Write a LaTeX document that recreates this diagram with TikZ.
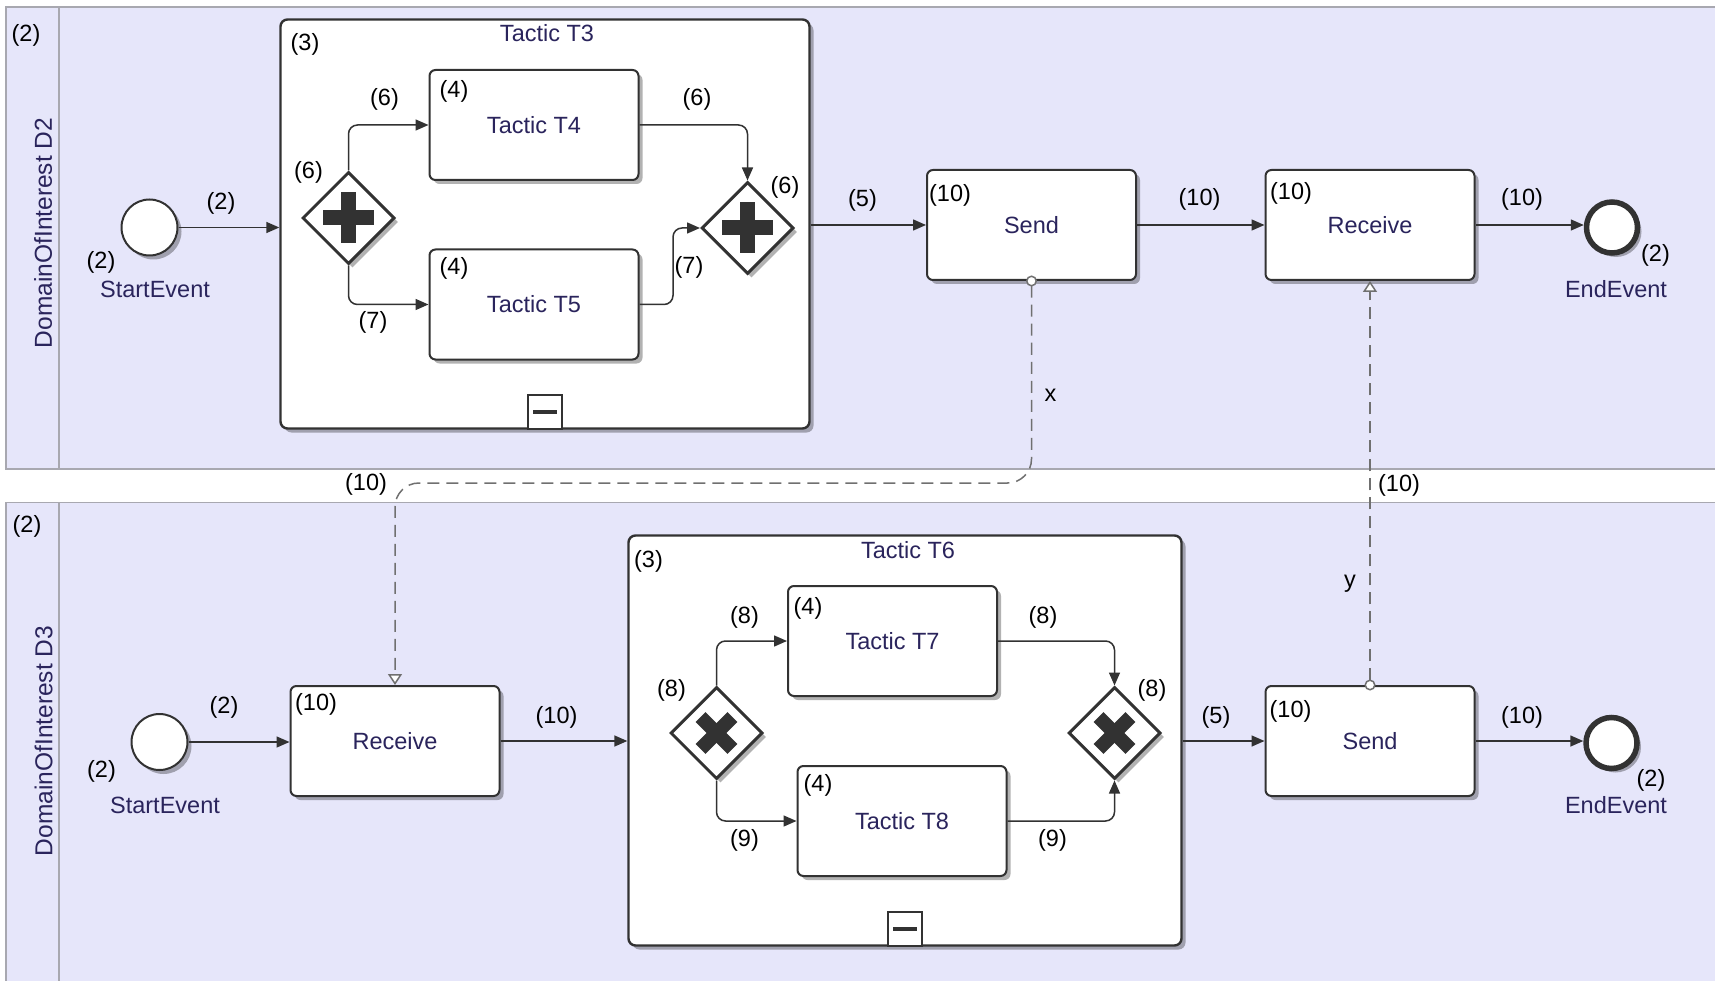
\documentclass[tikz,border=0pt]{standalone}
\usepackage{fontspec}
\setmainfont{Liberation Sans}
\usetikzlibrary{arrows.meta,positioning,shapes.geometric,shadows}

\definecolor{lanebg}{RGB}{230,230,250}
\definecolor{laneedge}{RGB}{168,168,176}
\definecolor{ink}{RGB}{50,50,50}
\definecolor{navy}{RGB}{42,36,92}
\definecolor{msgline}{RGB}{112,112,112}

\begin{document}
\begin{tikzpicture}[x=1pt, y=-1pt,
    every node/.style={font=\fontsize{23.5}{28}\selectfont, inner sep=0pt},
    lane/.style={fill=lanebg, draw=laneedge, line width=1.5pt},
    shadowed/.style={drop shadow={shadow xshift=4pt, shadow yshift=-4pt, fill=black, opacity=.3}},
    task/.style={draw=ink, line width=2pt, rounded corners=6pt, fill=white, shadowed,
      minimum width=209pt, minimum height=110pt, text=navy},
    sub/.style={draw=ink, line width=2.4pt, rounded corners=7pt, fill=white, shadowed},
    fold/.style={draw=ink, line width=1.8pt, fill=white, minimum width=34pt, minimum height=34pt, anchor=south,
      path picture={\draw[ink, line width=3.5pt] ([xshift=5pt]path picture bounding box.west) -- ([xshift=-5pt]path picture bounding box.east);}},
    gate/.style={diamond, aspect=1, draw=ink, line width=3pt, fill=white, shadowed, minimum width=92pt, minimum height=92pt},
    andgate/.style={gate, path picture={
      \fill[ink] ([shift={(-25.5,-7.5)}]path picture bounding box.center) rectangle ([shift={(25.5,7.5)}]path picture bounding box.center);
      \fill[ink] ([shift={(-7.5,-25.5)}]path picture bounding box.center) rectangle ([shift={(7.5,25.5)}]path picture bounding box.center);}},
    xorgate/.style={gate, path picture={
      \begin{scope}[shift={(path picture bounding box.center)}]
        \fill[ink] (10.96,20.86) -- (20.86,10.96) -- (-10.96,-20.86) -- (-20.86,-10.96) -- cycle;
        \fill[ink] (-10.96,20.86) -- (-20.86,10.96) -- (10.96,-20.86) -- (20.86,-10.96) -- cycle;
      \end{scope}}},
    startev/.style={circle, draw=ink, line width=2pt, fill=white, shadowed, minimum size=56pt},
    endev/.style={circle, draw=ink, line width=5.5pt, fill=white, shadowed, minimum size=51pt},
    flow/.style={draw=ink, line width=1.5pt, rounded corners=9pt, -{Triangle[length=13pt, width=11pt]}},
    msg/.style={draw=msgline, line width=1.5pt, dash pattern=on 12pt off 7pt, rounded corners=24pt,
      {Circle[open, fill=white, length=11pt, width=11pt]}-{Triangle[open, fill=white, length=11pt, width=14pt]}},
    num/.style={text=black},
    title/.style={text=navy}
  ]
  \fill[white] (0,0) rectangle (1715,981);
  \useasboundingbox (0,0) rectangle (1715,981);

  % pools
  \draw[lane] (6,7) rectangle (1725,469);
  \draw[laneedge, line width=1.5pt] (59,7) -- (59,469);
  \draw[lane] (6,502.5) rectangle (1725,995);
  \draw[laneedge, line width=1.5pt] (59,502.5) -- (59,995);
  \node[num] (p1n) at (26,35) {(2)};
  \node[title, rotate=90, font=\fontsize{24.5}{29}\selectfont] (d2) at (43,233) {DomainOfInterest D2};
  \node[num] (p2n) at (27,526.5) {(2)};
  \node[title, rotate=90, font=\fontsize{24.5}{29}\selectfont] (d3) at (43.5,741) {DomainOfInterest D3};

  % domain D2
  \node[startev] (start1) at (149.5,227.5) {};
  \node[num] (start1n) at (101,262) {(2)};
  \node[title] (start1t) at (155,289) {StartEvent};
  \node[sub, minimum width=529pt, minimum height=409pt] (t3) at (545,224) {};
  \node[fold] (t3f) at (t3.south) {};
  \node[title] (t3t) at (547,33) {Tactic T3};
  \node[num] (t3n) at (305,44) {(3)};
  \node[andgate] (g1) at (348.5,218) {};
  \node[num] (g1n) at (308.5,172) {(6)};
  \node[task] (t4) at (534,125) {Tactic T4};
  \node[num] (t4n) at (454,91) {(4)};
  \node[task] (t5) at (534,304.5) {Tactic T5};
  \node[num] (t5n) at (454,268) {(4)};
  \node[andgate] (g2) at (747.5,228) {};
  \node[num] (g2n) at (785,187) {(6)};
  \node[task] (send1) at (1031.5,225) {Send};
  \node[num] (send1n) at (950,195) {(10)};
  \node[task] (recv1) at (1370,225) {Receive};
  \node[num] (recv1n) at (1291,193) {(10)};
  \node[endev] (end1) at (1612,227.5) {};
  \node[num] (end1n) at (1655.5,255) {(2)};
  \node[title] (end1t) at (1616,289.5) {EndEvent};

  \draw[flow] (start1.east) -- (start1.east -| t3.west) node[num] at (221,203) {(2)};
  \draw[flow] (g1.north) |- (t4.west) node[num] at (384.5,99) {(6)};
  \draw[flow] (g1.south) |- (t5.west) node[num] at (373,322.5) {(7)};
  \draw[flow] (t4.east) -| (g2.north) node[num] at (697,99) {(6)};
  \draw[flow] (t5.east) -| ([xshift=-27pt]g2.west) -- (g2.west) node[num] at (689,267) {(7)};
  \draw[flow] (send1.west -| t3.east) -- (send1.west) node[num] at (862.5,200) {(5)};
  \draw[flow] (send1.east) -- (recv1.west) node[num] at (1199.5,199) {(10)};
  \draw[flow] (recv1.east) -- (recv1.east -| end1.west) node[num] at (1522,199) {(10)};

  % domain D3
  \node[startev] (start2) at (159.5,742) {};
  \node[num] (start2n) at (101.5,771.5) {(2)};
  \node[title] (start2t) at (165,805) {StartEvent};
  \node[task] (recv2) at (395,741) {Receive};
  \node[num] (recv2n) at (316,704) {(10)};
  \node[sub, minimum width=553pt, minimum height=410pt] (t6) at (905,740.5) {};
  \node[fold] (t6f) at (t6.south) {};
  \node[title] (t6t) at (908,550) {Tactic T6};
  \node[num] (t6n) at (648.5,561.5) {(3)};
  \node[xorgate] (g3) at (716.5,733) {};
  \node[num] (g3n) at (671.5,690) {(8)};
  \node[task] (t7) at (892.5,641) {Tactic T7};
  \node[num] (t7n) at (808,608.5) {(4)};
  \node[task] (t8) at (902,821) {Tactic T8};
  \node[num] (t8n) at (818,785) {(4)};
  \node[xorgate] (g4) at (1114.5,733) {};
  \node[num] (g4n) at (1152,690) {(8)};
  \node[task] (send2) at (1370,741) {Send};
  \node[num] (send2n) at (1290.5,711.5) {(10)};
  \node[endev] (end2) at (1611.5,743) {};
  \node[num] (end2n) at (1651,780) {(2)};
  \node[title] (end2t) at (1616,805) {EndEvent};

  \draw[flow] (start2.east) -- (start2.east -| recv2.west) node[num] at (224,707) {(2)};
  \draw[flow] (recv2.east) -- (recv2.east -| t6.west) node[num] at (556.5,717) {(10)};
  \draw[flow] (g3.north) |- (t7.west) node[num] at (744.5,617) {(8)};
  \draw[flow] (g3.south) |- (t8.west) node[num] at (744.5,840) {(9)};
  \draw[flow] (t7.east) -| (g4.north) node[num] at (1043,617) {(8)};
  \draw[flow] (t8.east) -| (g4.south) node[num] at (1052.5,840) {(9)};
  \draw[flow] (send2.west -| t6.east) -- (send2.west) node[num] at (1216,717) {(5)};
  \draw[flow] (send2.east) -- (send2.east -| end2.west) node[num] at (1522,717) {(10)};

  % message flows
  \coordinate (xbend) at (700,483);
  \draw[msg] ([yshift=5.5pt]send1.south) |- (xbend) -| (recv2.north)
    node[num] at (1050.5,395) {x} node[num] at (366,484) {(10)};
  \draw[msg] ([yshift=-5.5pt]send2.north) -- (recv1.south)
    node[num] at (1399,485) {(10)} node[num] at (1350,584) {y};
\end{tikzpicture}
\end{document}
